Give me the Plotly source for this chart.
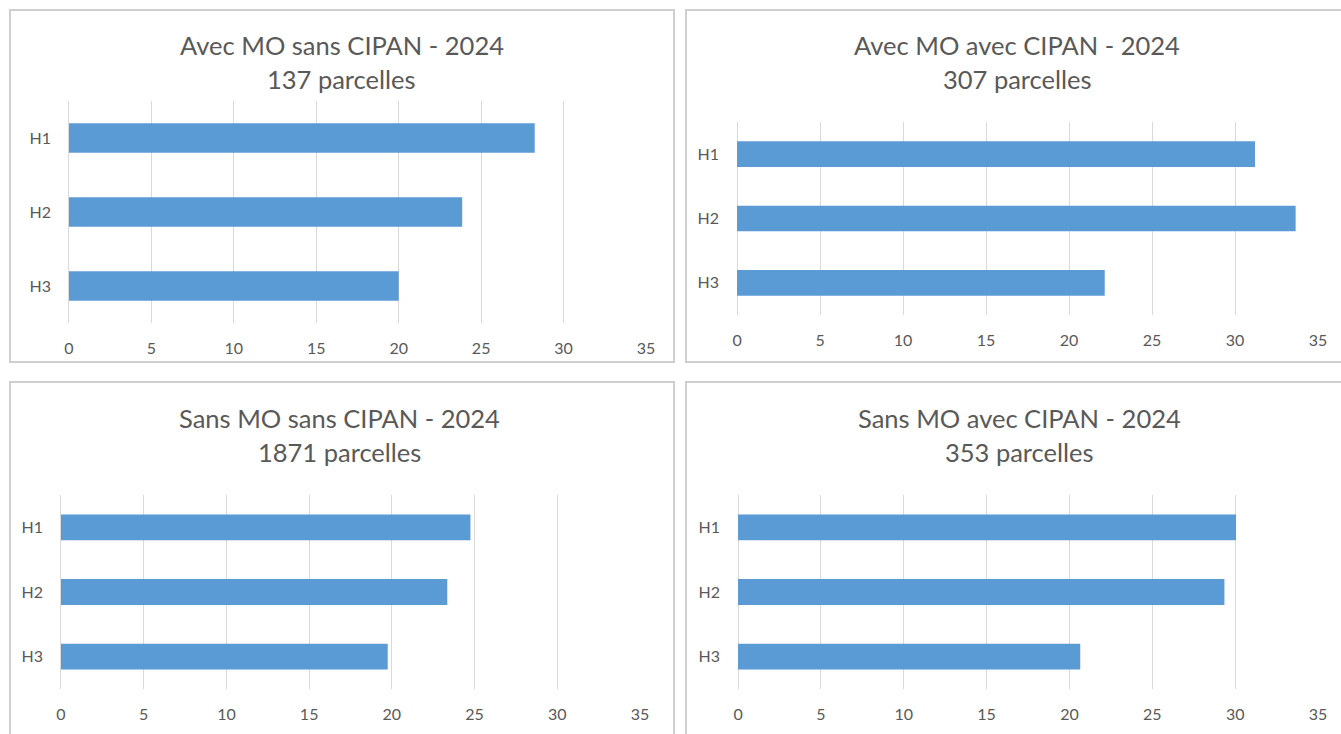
import plotly.graph_objects as go

W, H = 1341, 734

categories = ["H1", "H2", "H3"]
title_main = [
    "Avec MO sans CIPAN - 2024",
    "Avec MO avec CIPAN - 2024",
    "Sans MO sans CIPAN - 2024",
    "Sans MO avec CIPAN - 2024",
]
title_sub = ["137 parcelles", "307 parcelles", "1871 parcelles", "353 parcelles"]
vals_avec_mo_sans_cipan = [28.25, 23.85, 20.0]
vals_avec_mo_avec_cipan = [31.2, 33.65, 22.15]
vals_sans_mo_sans_cipan = [24.75, 23.35, 19.75]
vals_sans_mo_avec_cipan = [30.05, 29.35, 20.65]
x_ticks = [0, 5, 10, 15, 20, 25, 30, 35]

series = [vals_avec_mo_sans_cipan, vals_avec_mo_avec_cipan,
          vals_sans_mo_sans_cipan, vals_sans_mo_avec_cipan]


def px(x):
    # horizontal pixel calibration
    return 2 + (x - 7) / 0.9895


# (plot left, plot right, plot top, plot bottom, title center x, title line1 y, xlabel standoff)
panels = [
    (69, 646, 101, 323, 342, 45, 14),
    (737, 1318, 122, 315, 1017, 45, 14),
    (61, 640, 495, 689, 340, 418, 14),
    (738, 1318, 495, 689, 1019, 418, 14),
]
frames = [(10, 674, 10, 362), (686, 1360, 10, 362), (10, 674, 382, 745), (686, 1360, 382, 745)]

TXT = "#595959"
GRID = "#d9d9d9"
FONT = "Lato"

fig = go.Figure()
layout = {}
annotations = []
shapes = []
for i, (vals, p) in enumerate(zip(series, panels)):
    xl, xr, yt, yb, tcx, ty, sto = p
    suffix = "" if i == 0 else str(i + 1)
    fig.add_trace(go.Bar(
        y=categories, x=vals, orientation="h",
        marker=dict(color="#5b9bd5", line=dict(width=0)),
        xaxis="x" + suffix, yaxis="y" + suffix, showlegend=False,
    ))
    layout["xaxis" + suffix] = dict(
        domain=[px(xl) / W, min(px(xr) / W, 1.0)], range=[0, 35], tickvals=x_ticks,
        showgrid=True, gridcolor=GRID, gridwidth=1.3, zeroline=True,
        zerolinecolor=GRID, zerolinewidth=1.3, showline=False, ticks="",
        ticklabelstandoff=sto, tickfont=dict(family=FONT, size=16, color=TXT),
        anchor="y" + suffix, fixedrange=True,
    )
    layout["yaxis" + suffix] = dict(
        domain=[1 - yb / H, 1 - yt / H], categoryorder="array",
        categoryarray=categories, autorange="reversed", showgrid=False,
        zeroline=False, showline=False, ticks="", ticklabelstandoff=17,
        tickfont=dict(family=FONT, size=16, color=TXT),
        anchor="x" + suffix, fixedrange=True,
    )
    for txt, yy in ((title_main[i], ty), (title_sub[i], ty + 34)):
        annotations.append(dict(
            text=txt, x=px(tcx) / W, y=1 - yy / H, xref="paper", yref="paper",
            xanchor="center", yanchor="middle", showarrow=False,
            font=dict(family=FONT, size=25.5, color=TXT),
        ))
for (x0, x1, y0, y1) in frames:
    shapes.append(dict(type="rect", xref="paper", yref="paper",
                       x0=px(x0) / W, x1=px(x1) / W, y0=1 - y1 / H, y1=1 - y0 / H,
                       line=dict(color="#d0d0d0", width=2), fillcolor="rgba(0,0,0,0)", layer="below"))

fig.update_layout(
    width=W, height=H, margin=dict(l=0, r=0, t=0, b=0),
    paper_bgcolor="white", plot_bgcolor="white", bargap=0.6,
    annotations=annotations, shapes=shapes, **layout,
)
fig.write_html(
    "out.html", config={"displayModeBar": False},
    post_script="document.body.style.margin='0';document.body.style.overflow='hidden';",
)
